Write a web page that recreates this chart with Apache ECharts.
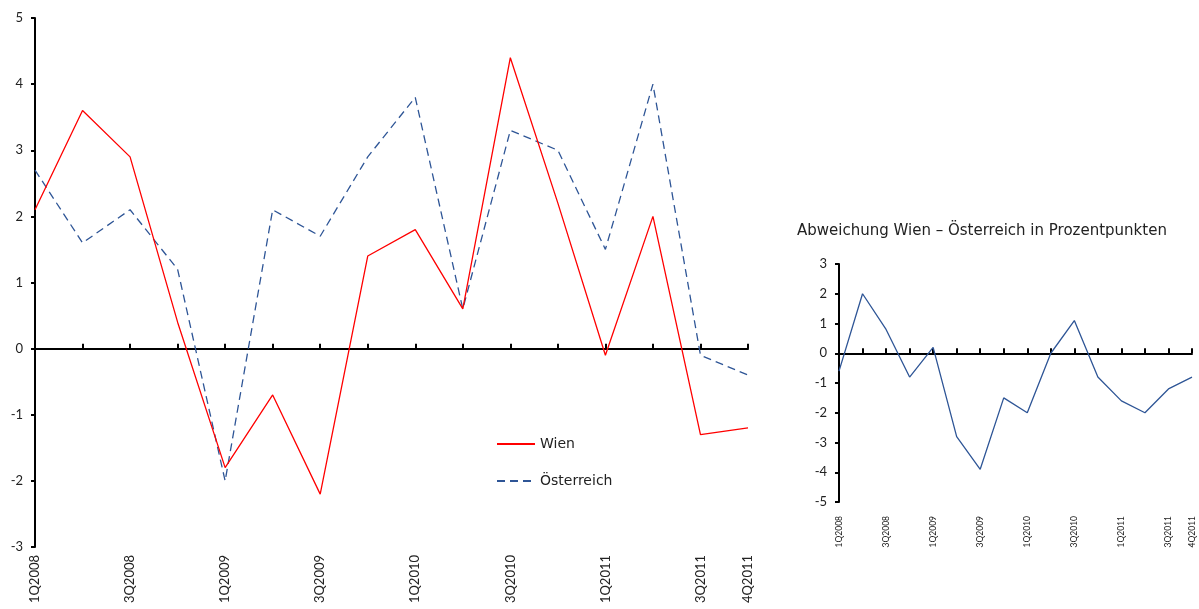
<!DOCTYPE html>
<html>
<head>
<meta charset="utf-8">
<script src="https://cdn.jsdelivr.net/npm/echarts@6/dist/echarts.min.js"></script>
<style>
  html, body { margin: 0; padding: 0; background: #ffffff; }
  #chart { width: 1199px; height: 609px; }
</style>
</head>
<body>
<div id="chart"></div>
<script>
// Quarters 1Q2008 – 4Q2011
const quarters = [
  '1Q2008', '2Q2008', '3Q2008', '4Q2008',
  '1Q2009', '2Q2009', '3Q2009', '4Q2009',
  '1Q2010', '2Q2010', '3Q2010', '4Q2010',
  '1Q2011', '2Q2011', '3Q2011', '4Q2011'
];

// Change rates in percent
const wien = [2.1, 3.6, 2.9, 0.4, -1.8, -0.7, -2.2, 1.4, 1.8, 0.6, 4.4, 2.2, -0.1, 2.0, -1.3, -1.2];
const oesterreich = [2.7, 1.6, 2.1, 1.2, -2.0, 2.1, 1.7, 2.9, 3.8, 0.6, 3.3, 3.0, 1.5, 4.0, -0.1, -0.4];

// Difference Wien – Österreich in percentage points
const abweichung = [-0.6, 2.0, 0.8, -0.8, 0.2, -2.8, -3.9, -1.5, -2.0, 0.0, 1.1, -0.8, -1.6, -2.0, -1.2, -0.8];

const FONT = 'Lato, "DejaVu Sans", sans-serif';
const WIDE = '"DejaVu Sans", sans-serif';
const shownLabel = (i) => i % 2 === 0 || i === quarters.length - 1;

const chart = echarts.init(document.getElementById('chart'), null, { renderer: 'canvas' });

chart.setOption({
  backgroundColor: '#ffffff',
  animation: false,
  textStyle: { fontFamily: FONT },
  title: {
    text: 'Abweichung Wien – Österreich in Prozentpunkten',
    left: 792,
    top: 219,
    textStyle: { fontFamily: WIDE, fontSize: 15, fontWeight: 'normal', color: '#222' }
  },
  legend: {
    orient: 'vertical',
    left: 491,
    top: 432,
    itemGap: 23,
    itemWidth: 38,
    itemHeight: 2,
    textStyle: { fontFamily: WIDE, fontSize: 14, color: '#222' },
    data: ['Wien', 'Österreich']
  },
  grid: [
    { left: 35, top: 18, width: 713, height: 529 },
    { left: 839, top: 264, width: 353, height: 238 }
  ],
  xAxis: [
    // main chart: labels along the bottom
    {
      gridIndex: 0, type: 'category', data: quarters, boundaryGap: false,
      position: 'bottom',
      axisLine: { show: false, onZero: false },
      axisTick: { show: false },
      axisLabel: {
        rotate: 90, interval: (i) => shownLabel(i), margin: 8,
        fontFamily: FONT, fontSize: 13, color: '#222'
      }
    },
    // main chart: zero line with ticks
    {
      gridIndex: 0, type: 'category', data: quarters, boundaryGap: false,
      axisLine: { onZero: true, lineStyle: { color: '#000', width: 2 } },
      axisTick: { show: true, interval: 0, length: 5, lineStyle: { color: '#000', width: 2 } },
      axisLabel: { show: false }
    },
    // difference chart: labels along the bottom
    {
      gridIndex: 1, type: 'category', data: quarters, boundaryGap: false,
      position: 'bottom',
      axisLine: { show: false, onZero: false },
      axisTick: { show: false },
      axisLabel: {
        rotate: 90, interval: (i) => shownLabel(i), margin: 14,
        fontFamily: FONT, fontSize: 8.5, color: '#222'
      }
    },
    // difference chart: zero line with ticks
    {
      gridIndex: 1, type: 'category', data: quarters, boundaryGap: false,
      axisLine: { onZero: true, lineStyle: { color: '#000', width: 2 } },
      axisTick: { show: true, interval: 0, length: 5, lineStyle: { color: '#000', width: 2 } },
      axisLabel: { show: false }
    }
  ],
  yAxis: [
    {
      gridIndex: 0, type: 'value', min: -3, max: 5, interval: 1,
      splitLine: { show: false },
      axisLine: { show: true, lineStyle: { color: '#000', width: 2 } },
      axisTick: { show: true, length: 4, lineStyle: { color: '#000', width: 2 } },
      axisLabel: { margin: 12, fontFamily: FONT, fontSize: 13, color: '#222' }
    },
    {
      gridIndex: 1, type: 'value', min: -5, max: 3, interval: 1,
      splitLine: { show: false },
      axisLine: { show: true, lineStyle: { color: '#000', width: 2 } },
      axisTick: { show: true, length: 4, lineStyle: { color: '#000', width: 2 } },
      axisLabel: { margin: 12, fontFamily: FONT, fontSize: 13, color: '#222' }
    }
  ],
  series: [
    {
      name: 'Wien', type: 'line', xAxisIndex: 1, yAxisIndex: 0,
      data: wien, symbol: 'none', z: 3,
      lineStyle: { color: '#ff0000', width: 1.3 },
      itemStyle: { color: '#ff0000' }
    },
    {
      name: 'Österreich', type: 'line', xAxisIndex: 1, yAxisIndex: 0,
      data: oesterreich, symbol: 'none', z: 2,
      lineStyle: { color: '#2e5596', width: 1.3, type: [8, 5] },
      itemStyle: { color: '#2e5596' }
    },
    {
      name: 'Abweichung', type: 'line', xAxisIndex: 3, yAxisIndex: 1,
      data: abweichung, symbol: 'none',
      lineStyle: { color: '#2e5596', width: 1.3 },
      itemStyle: { color: '#2e5596' }
    }
  ]
});
</script>
</body>
</html>
